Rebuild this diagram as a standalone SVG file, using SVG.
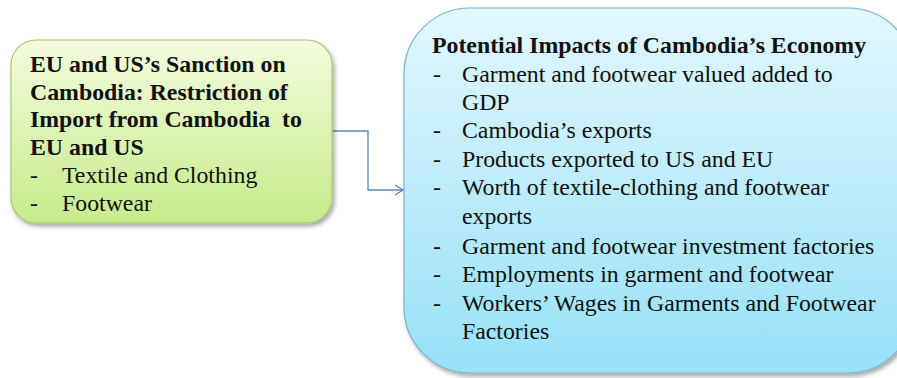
<svg xmlns="http://www.w3.org/2000/svg" width="897" height="378" viewBox="0 0 897 378">
<defs>
<linearGradient id="gGreen" x1="0" y1="0" x2="0" y2="1">
<stop offset="0" stop-color="#f3fbdc"/>
<stop offset="1" stop-color="#c6ec8a"/>
</linearGradient>
<linearGradient id="gBlue" x1="0" y1="0" x2="0" y2="1">
<stop offset="0" stop-color="#e2f7fd"/>
<stop offset="1" stop-color="#97e1f7"/>
</linearGradient>
<filter id="sh" x="-10%" y="-10%" width="120%" height="120%">
<feDropShadow dx="2" dy="3" stdDeviation="2" flood-color="#000" flood-opacity="0.35"/>
</filter>
<marker id="arr" markerWidth="12" markerHeight="12" refX="10" refY="6" orient="auto" markerUnits="userSpaceOnUse">
<path d="M2,1 L10,6 L2,11" fill="none" stroke="#5b86bd" stroke-width="1.3"/>
</marker>
<style>
.t{font-family:"Liberation Serif","Times New Roman",serif;font-size:23.8px;fill:#111;white-space:pre}
.b{font-weight:bold}
</style>
</defs>
<rect width="897" height="378" fill="#fff"/>
<g id="connectors">
<polyline points="333,131 368,131 368,190 403,190" fill="none" stroke="#5b86bd" stroke-width="1.3" marker-end="url(#arr)"/>
</g>
<g id="node-sanction">
<rect x="11" y="40" width="321" height="183" rx="25" fill="url(#gGreen)" stroke="#a6c872" stroke-width="1.2" filter="url(#sh)"/>
<text class="t b" x="30" y="72">EU and US’s Sanction on</text>
<text class="t b" x="30" y="100">Cambodia: Restriction of</text>
<text class="t b" x="30" y="127">Import from Cambodia  to</text>
<text class="t b" x="30" y="155">EU and US</text>
<text class="t" x="30" y="183">-</text><text class="t" x="62" y="183">Textile and Clothing</text>
<text class="t" x="30" y="211">-</text><text class="t" x="62" y="211">Footwear</text>
</g>
<g id="node-impacts">
<rect x="404" y="8" width="510" height="365" rx="66" fill="url(#gBlue)" stroke="#7db3cc" stroke-width="1.2" filter="url(#sh)"/>
<text class="t b" x="432" y="53">Potential Impacts of Cambodia’s Economy</text>
<text class="t" x="433" y="82">-</text><text class="t" x="462" y="82">Garment and footwear valued added to</text>
<text class="t" x="462" y="110">GDP</text>
<text class="t" x="433" y="138">-</text><text class="t" x="462" y="138">Cambodia’s exports</text>
<text class="t" x="433" y="167">-</text><text class="t" x="462" y="167">Products exported to US and EU</text>
<text class="t" x="433" y="195">-</text><text class="t" x="462" y="195">Worth of textile-clothing and footwear</text>
<text class="t" x="462" y="224">exports</text>
<text class="t" x="433" y="254">-</text><text class="t" x="462" y="254">Garment and footwear investment factories</text>
<text class="t" x="433" y="282">-</text><text class="t" x="462" y="282">Employments in garment and footwear</text>
<text class="t" x="433" y="311">-</text><text class="t" x="462" y="311">Workers’ Wages in Garments and Footwear</text>
<text class="t" x="462" y="339">Factories</text>
</g>
</svg>
